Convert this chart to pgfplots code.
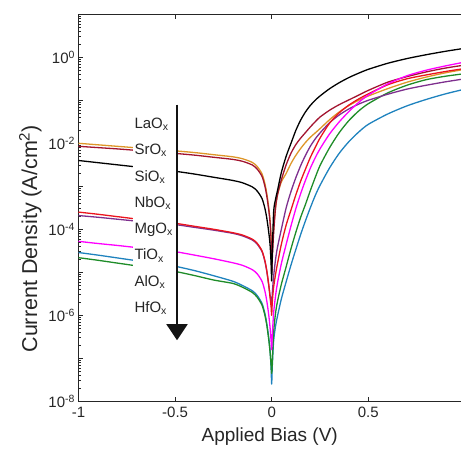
\documentclass[border=0pt]{standalone}
\usepackage{pgfplots}
\pgfplotsset{compat=1.18}
\usepackage{fontspec}
\setmainfont{Liberation Sans}
\usetikzlibrary{arrows.meta}

\definecolor{cLa}{RGB}{222,150,40}
\definecolor{cSr}{RGB}{162,20,47}
\definecolor{cSi}{RGB}{0,0,0}
\definecolor{cNb}{RGB}{235,20,30}
\definecolor{cMg}{RGB}{126,47,142}
\definecolor{cTi}{RGB}{255,0,255}
\definecolor{cAl}{RGB}{30,130,190}
\definecolor{cHf}{RGB}{30,140,40}
\definecolor{axgray}{RGB}{38,38,38}

\begin{document}
\begin{tikzpicture}
% y values are log10 of current density (A/cm^2)
\begin{axis}[
    scale only axis,
    width=382.5pt, height=387pt,
    xmin=-1, xmax=0.98,
    ymin=-8, ymax=1,
    separate axis lines,
    axis x line*=box,
    axis y line*=left,
    axis line style={axgray, line width=0.8pt},
    xtick={-1,-0.5,0,0.5},
    xticklabels={-1,-0.5,0,0.5},
    ytick={-8,-7,...,1},
    yticklabels={10\textsuperscript{-8},,10\textsuperscript{-6},,10\textsuperscript{-4},,10\textsuperscript{-2},,10\textsuperscript{0},},
    minor ytick={-7.699,-7.523,-7.398,-7.301,-7.222,-7.155,-7.097,-7.046,
                 -6.699,-6.523,-6.398,-6.301,-6.222,-6.155,-6.097,-6.046,
                 -5.699,-5.523,-5.398,-5.301,-5.222,-5.155,-5.097,-5.046,
                 -4.699,-4.523,-4.398,-4.301,-4.222,-4.155,-4.097,-4.046,
                 -3.699,-3.523,-3.398,-3.301,-3.222,-3.155,-3.097,-3.046,
                 -2.699,-2.523,-2.398,-2.301,-2.222,-2.155,-2.097,-2.046,
                 -1.699,-1.523,-1.398,-1.301,-1.222,-1.155,-1.097,-1.046,
                 -0.699,-0.523,-0.398,-0.301,-0.222,-0.155,-0.097,-0.046,
                 0.301,0.477,0.602,0.699,0.778,0.845,0.903,0.954},
    tick align=inside,
    major tick length=4.5pt,
    minor tick length=2.5pt,
    tick style={axgray, line width=0.6pt},
    ticklabel style={font=\fontsize{15}{17}\selectfont, text=axgray},
    xticklabel style={yshift=-2pt},
    label style={font=\fontsize{19}{22}\selectfont, text=axgray},
    xlabel={Applied Bias (V)},
    xlabel style={yshift=-3pt},
    ylabel={Current Density (A/cm\textsuperscript{2})},
    ylabel style={font=\fontsize{21.5}{24}\selectfont, at={(ticklabel cs:0.42)}},
    every axis plot/.append style={line width=1.3pt, no markers, line join=round, smooth, tension=0.45},
]
\coordinate (ll) at (rel axis cs:0,0);
\coordinate (ur) at (rel axis cs:1,1);

% AlOx
\addplot[cAl] coordinates {
(-1,-4.54) (-0.9,-4.60) (-0.8,-4.665) (-0.7,-4.73) (-0.6,-4.795) (-0.5,-4.86) (-0.4,-4.96) (-0.3,-5.08) (-0.2,-5.21) (-0.15,-5.31) (-0.1,-5.43) (-0.075,-5.54) (-0.05,-5.725) (-0.035,-5.96) (-0.025,-6.20) (-0.015,-6.53) (-0.008,-6.835) (-0.003,-7.24) (0,-7.6)
(0.003,-7.2) (0.01,-6.6) (0.02,-6.25) (0.03,-6.02) (0.05,-5.62) (0.075,-5.22) (0.1,-4.83) (0.125,-4.47) (0.15,-4.12) (0.175,-3.8) (0.2,-3.5) (0.225,-3.22) (0.25,-2.98) (0.3,-2.57) (0.35,-2.23) (0.4,-1.96) (0.45,-1.74) (0.5,-1.56) (0.6,-1.32) (0.7,-1.13) (0.8,-0.98) (0.9,-0.85) (1.0,-0.74)
};
% HfOx
\addplot[cHf] coordinates {
(-1,-4.66) (-0.9,-4.72) (-0.8,-4.785) (-0.7,-4.85) (-0.6,-4.915) (-0.5,-4.98) (-0.4,-5.075) (-0.3,-5.18) (-0.2,-5.26) (-0.15,-5.35) (-0.1,-5.47) (-0.075,-5.58) (-0.05,-5.765) (-0.035,-6.0) (-0.025,-6.24) (-0.015,-6.57) (-0.008,-6.875) (-0.003,-7.15) (0,-7.35)
(0.003,-7.1) (0.01,-6.4) (0.02,-5.95) (0.03,-5.68) (0.05,-5.28) (0.075,-4.87) (0.1,-4.45) (0.125,-4.07) (0.15,-3.72) (0.175,-3.42) (0.2,-3.1) (0.225,-2.8) (0.25,-2.52) (0.3,-2.1) (0.35,-1.75) (0.4,-1.47) (0.45,-1.25) (0.5,-1.08) (0.6,-0.83) (0.7,-0.65) (0.8,-0.52) (0.9,-0.44) (1.0,-0.38)
};
% MgOx
\addplot[cMg] coordinates {
(-1,-3.68) (-0.9,-3.72) (-0.8,-3.765) (-0.7,-3.81) (-0.6,-3.85) (-0.5,-3.89) (-0.4,-3.955) (-0.3,-4.02) (-0.2,-4.095) (-0.15,-4.155) (-0.1,-4.25) (-0.075,-4.345) (-0.05,-4.52) (-0.035,-4.75) (-0.025,-4.99) (-0.015,-5.31) (-0.008,-5.55) (-0.003,-5.65) (0,-5.8)
(0.003,-5.5) (0.01,-5.1) (0.02,-4.7) (0.03,-4.42) (0.05,-4.0) (0.075,-3.5) (0.1,-3.12) (0.125,-2.8) (0.15,-2.52) (0.175,-2.28) (0.2,-2.07) (0.225,-1.9) (0.25,-1.76) (0.3,-1.52) (0.35,-1.34) (0.4,-1.2) (0.45,-1.09) (0.5,-1.0) (0.6,-0.86) (0.7,-0.74) (0.8,-0.65) (0.9,-0.57) (1.0,-0.5)
};
% LaOx
\addplot[cLa] coordinates {
(-1,-2.00) (-0.9,-2.035) (-0.8,-2.07) (-0.7,-2.105) (-0.6,-2.14) (-0.5,-2.175) (-0.4,-2.215) (-0.3,-2.265) (-0.2,-2.315) (-0.15,-2.36) (-0.1,-2.445) (-0.075,-2.54) (-0.05,-2.71) (-0.035,-2.94) (-0.025,-3.175) (-0.015,-3.50) (-0.008,-3.805) (-0.003,-4.21) (0,-4.8)
(0.003,-4.5) (0.01,-4.0) (0.02,-3.5) (0.03,-3.2) (0.05,-2.9) (0.075,-2.7) (0.1,-2.47) (0.125,-2.28) (0.15,-2.12) (0.175,-1.98) (0.2,-1.86) (0.225,-1.76) (0.25,-1.66) (0.3,-1.45) (0.35,-1.27) (0.4,-1.12) (0.45,-1.0) (0.5,-0.9) (0.6,-0.73) (0.7,-0.58) (0.8,-0.46) (0.9,-0.36) (1.0,-0.28)
};
% SrOx
\addplot[cSr] coordinates {
(-1,-2.07) (-0.9,-2.10) (-0.8,-2.13) (-0.7,-2.165) (-0.6,-2.20) (-0.5,-2.235) (-0.4,-2.275) (-0.3,-2.325) (-0.2,-2.375) (-0.15,-2.42) (-0.1,-2.505) (-0.075,-2.60) (-0.05,-2.77) (-0.035,-3.00) (-0.025,-3.235) (-0.015,-3.56) (-0.008,-3.865) (-0.003,-4.27) (0,-5.0)
(0.003,-4.7) (0.01,-4.1) (0.02,-3.5) (0.03,-3.2) (0.05,-2.85) (0.075,-2.5) (0.1,-2.23) (0.125,-2.03) (0.15,-1.88) (0.175,-1.75) (0.2,-1.62) (0.225,-1.5) (0.25,-1.39) (0.3,-1.23) (0.35,-1.1) (0.4,-0.99) (0.45,-0.88) (0.5,-0.77) (0.6,-0.58) (0.7,-0.45) (0.8,-0.34) (0.9,-0.25) (1.0,-0.18)
};
% NbOx
\addplot[cNb] coordinates {
(-1,-3.60) (-0.9,-3.65) (-0.8,-3.705) (-0.7,-3.76) (-0.6,-3.81) (-0.5,-3.86) (-0.4,-3.93) (-0.3,-4.00) (-0.2,-4.08) (-0.15,-4.135) (-0.1,-4.23) (-0.075,-4.325) (-0.05,-4.50) (-0.035,-4.73) (-0.025,-4.97) (-0.015,-5.295) (-0.008,-5.60) (-0.003,-5.80) (0,-6.0)
(0.003,-5.7) (0.01,-5.35) (0.02,-5.05) (0.03,-4.8) (0.05,-4.35) (0.075,-3.9) (0.1,-3.55) (0.125,-3.2) (0.15,-2.88) (0.175,-2.6) (0.2,-2.33) (0.225,-2.1) (0.25,-1.88) (0.3,-1.53) (0.35,-1.29) (0.4,-1.11) (0.45,-0.97) (0.5,-0.85) (0.6,-0.64) (0.7,-0.5) (0.8,-0.41) (0.9,-0.33) (1.0,-0.26)
};
% TiOx
\addplot[cTi] coordinates {
(-1,-4.28) (-0.9,-4.33) (-0.8,-4.375) (-0.7,-4.425) (-0.6,-4.475) (-0.5,-4.52) (-0.4,-4.60) (-0.3,-4.685) (-0.2,-4.78) (-0.15,-4.84) (-0.1,-4.94) (-0.075,-5.035) (-0.05,-5.21) (-0.035,-5.44) (-0.025,-5.675) (-0.015,-6.0) (-0.008,-6.305) (-0.003,-6.6) (0,-6.8)
(0.003,-6.5) (0.01,-5.95) (0.02,-5.55) (0.03,-5.25) (0.05,-4.8) (0.075,-4.35) (0.1,-3.92) (0.125,-3.52) (0.15,-3.17) (0.175,-2.86) (0.2,-2.58) (0.225,-2.34) (0.25,-2.13) (0.3,-1.78) (0.35,-1.5) (0.4,-1.26) (0.45,-1.05) (0.5,-0.88) (0.6,-0.62) (0.7,-0.43) (0.8,-0.3) (0.9,-0.2) (1.0,-0.11)
};
% SiOx
\addplot[cSi] coordinates {
(-1,-2.40) (-0.9,-2.45) (-0.8,-2.50) (-0.7,-2.55) (-0.6,-2.60) (-0.5,-2.65) (-0.4,-2.715) (-0.3,-2.79) (-0.2,-2.865) (-0.15,-2.92) (-0.1,-3.015) (-0.075,-3.11) (-0.05,-3.285) (-0.035,-3.515) (-0.025,-3.75) (-0.015,-4.075) (-0.008,-4.38) (-0.003,-4.8) (0,-5.2)
(0.003,-4.6) (0.01,-3.6) (0.02,-3.3) (0.03,-3.1) (0.05,-2.68) (0.075,-2.3) (0.1,-2.0) (0.125,-1.70) (0.15,-1.46) (0.175,-1.27) (0.2,-1.12) (0.225,-1.0) (0.25,-0.9) (0.3,-0.73) (0.35,-0.59) (0.4,-0.47) (0.45,-0.37) (0.5,-0.28) (0.6,-0.14) (0.7,-0.03) (0.8,0.06) (0.9,0.14) (1.0,0.21)
};

% label panel with arrow
\fill[white] (axis cs:-0.716,-1.35) rectangle (axis cs:-0.49,-6.2);
\draw[axgray!50!black, line width=1.7pt, -{Triangle[width=21pt,length=16pt]}]
    (axis cs:-0.49,-1.10) -- (axis cs:-0.49,-6.58);
\begin{scope}[every node/.style={anchor=base west, inner sep=0pt,
      font=\fontsize{15}{17}\selectfont, text=axgray}]
\node at (axis cs:-0.711,-1.654) {LaO\textsubscript{x}};
\node at (axis cs:-0.711,-2.266) {SrO\textsubscript{x}};
\node at (axis cs:-0.711,-2.878) {SiO\textsubscript{x}};
\node at (axis cs:-0.711,-3.489) {NbO\textsubscript{x}};
\node at (axis cs:-0.711,-4.101) {MgO\textsubscript{x}};
\node at (axis cs:-0.711,-4.713) {TiO\textsubscript{x}};
\node at (axis cs:-0.711,-5.325) {AlO\textsubscript{x}};
\node at (axis cs:-0.711,-5.936) {HfO\textsubscript{x}};
\end{scope}
\end{axis}
\pgfresetboundingbox
\path[use as bounding box] ([xshift=-78.5pt,yshift=-52.7pt]ll) rectangle ([yshift=14.3pt]ur);
\end{tikzpicture}
\end{document}
